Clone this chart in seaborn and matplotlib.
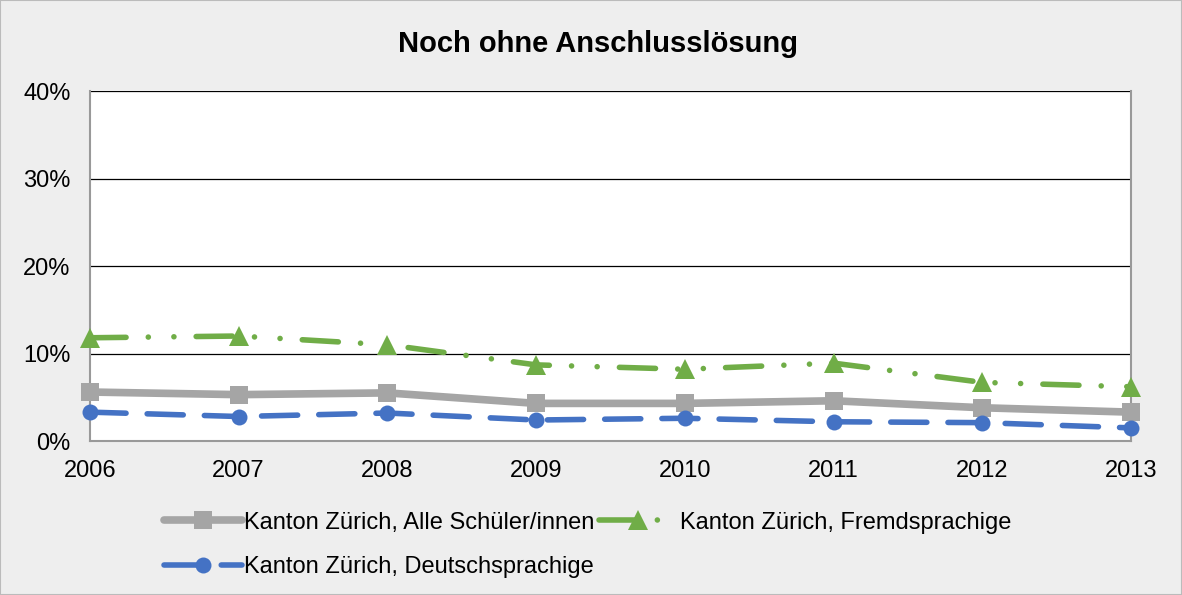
import matplotlib
matplotlib.use("Agg")
import matplotlib.pyplot as plt
import seaborn as sns
from matplotlib.ticker import FuncFormatter
from matplotlib.patches import Rectangle

# -------------------------
# Data (percent)
# -------------------------
years = [2006, 2007, 2008, 2009, 2010, 2011, 2012, 2013]
alle = [5.6, 5.3, 5.5, 4.3, 4.3, 4.6, 3.8, 3.3]
fremd = [11.8, 12.0, 11.0, 8.7, 8.2, 8.9, 6.7, 6.2]
deutsch = [3.3, 2.8, 3.2, 2.4, 2.6, 2.2, 2.1, 1.5]

labels = ["Kanton Zürich, Alle Schüler/innen",
          "Kanton Zürich, Fremdsprachige",
          "Kanton Zürich, Deutschsprachige"]
title = "Noch ohne Anschlusslösung"

# -------------------------
# Style
# -------------------------
sns.set_style("white")
plt.rcParams["font.family"] = ["Liberation Sans", "DejaVu Sans"]
plt.rcParams["text.color"] = "black"
plt.rcParams["xtick.color"] = "black"
plt.rcParams["ytick.color"] = "black"

fig = plt.figure(figsize=(11.82, 5.95), dpi=100, facecolor="#eeeeee")
ax = fig.add_axes([0.0761, 0.2588, 0.8808, 0.5882])
ax.set_facecolor("white")

sns.lineplot(x=years, y=alle, ax=ax, color="#a5a5a5", linewidth=5.5,
             marker="s", markersize=13, markeredgewidth=0,
             linestyle="-", label=labels[0], clip_on=False, zorder=3)
sns.lineplot(x=years, y=fremd, ax=ax, color="#70ad47", linewidth=4,
             marker="^", markersize=14, markeredgewidth=0,
             linestyle=(0, (6.5, 4, 0.01, 4.6, 0.01, 4)),
             dash_capstyle="round", label=labels[1], clip_on=False, zorder=3)
sns.lineplot(x=years, y=deutsch, ax=ax, color="#4472c4", linewidth=4,
             marker="o", markersize=11.5, markeredgewidth=0,
             linestyle=(0, (6.5, 3.8)), dash_capstyle="round",
             label=labels[2], clip_on=False, zorder=3)

# -------------------------
# Axes
# -------------------------
ax.set_xlim(2006, 2013)
ax.set_ylim(0, 40)
ax.set_yticks([0, 10, 20, 30, 40])
ax.set_xticks(years)
ax.yaxis.set_major_formatter(FuncFormatter(lambda v, p: f"{v:.0f}%"))
ax.tick_params(axis="both", labelsize=17, length=0)
ax.tick_params(axis="y", pad=14)
ax.tick_params(axis="x", pad=14)
for y in [10, 20, 30, 40]:
    ax.axhline(y, color="black", linewidth=0.9, zorder=0.5)
for side in ["left", "bottom", "right"]:
    ax.spines[side].set_color("#999999")
    ax.spines[side].set_linewidth(1.5)
ax.spines["top"].set_visible(False)
ax.set_xlabel("")
ax.set_ylabel("")

fig.suptitle(title, x=0.506, y=0.95, fontsize=21, fontweight="bold")

# legend: order so that row 1 = Alle, Fremd; row 2 = Deutsch
handles, lbls = ax.get_legend_handles_labels()
order = [0, 2, 1]
ax.legend([handles[i] for i in order], [lbls[i] for i in order],
          loc="upper center", bbox_to_anchor=(0.478, -0.175),
          ncol=2, frameon=False, fontsize=17, handlelength=3.3,
          handletextpad=0.1, columnspacing=0.2, labelspacing=0.95,
          borderaxespad=0)

fig.patches.append(Rectangle((0, 0), 1, 1, transform=fig.transFigure,
                             fill=False, edgecolor="#bbbbbb", linewidth=1.5))

plt.savefig("out.png", dpi=100, facecolor=fig.get_facecolor())
